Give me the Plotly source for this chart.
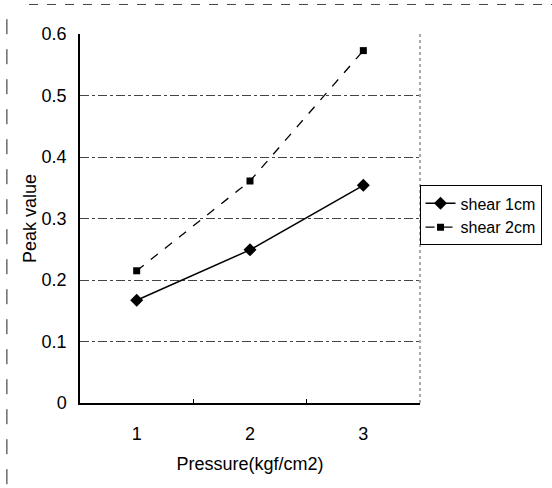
import plotly.graph_objects as go

categories = ["1", "2", "3"]
shear_1cm = [0.167, 0.249, 0.354]
shear_2cm = [0.215, 0.361, 0.573]
y_ticks = [0, 0.1, 0.2, 0.3, 0.4, 0.5, 0.6]
y_tick_labels = ["0", "0.1", "0.2", "0.3", "0.4", "0.5", "0.6"]

FONT = "Liberation Sans Narrow, Liberation Sans, Arial Narrow, Arial, sans-serif"

fig = go.Figure()
fig.add_trace(go.Scatter(
    x=categories, y=shear_1cm, name="shear 1cm", mode="lines+markers",
    line=dict(color="black", width=1.5),
    marker=dict(symbol="diamond", size=10, color="black"),
))
fig.add_trace(go.Scatter(
    x=categories, y=shear_2cm, name="shear 2cm", mode="lines+markers",
    line=dict(color="black", width=1.3, dash="dash"),
    marker=dict(symbol="square", size=7, color="black"),
))

fig.update_layout(
    width=552, height=488,
    margin=dict(l=80, r=132, t=34, b=85, autoexpand=False),
    paper_bgcolor="white", plot_bgcolor="white",
    font=dict(family=FONT, size=18, color="black"),
    showlegend=True,
    legend=dict(
        xref="container", yref="container",
        x=0.76, y=0.62, xanchor="left", yanchor="top",
        bordercolor="black", borderwidth=1, bgcolor="white",
        font=dict(size=16), itemwidth=30, tracegroupgap=0,
    ),
    xaxis=dict(
        type="category", range=[-0.5, 2.5],
        showline=True, linecolor="black", linewidth=1.5,
        ticks="inside", tickson="boundaries", ticklen=4, tickcolor="black",
        showgrid=False, zeroline=False,
        title=dict(text="Pressure(kgf/cm2)", standoff=14, font=dict(size=18)),
        tickfont=dict(size=18), ticklabelstandoff=14,
    ),
    yaxis=dict(
        range=[0, 0.6], tickvals=y_ticks, ticktext=y_tick_labels,
        showline=True, linecolor="black", linewidth=1.5,
        ticks="", showgrid=True, gridcolor="#444444", gridwidth=1, griddash="dashdot",
        zeroline=False,
        title=dict(text="Peak value", standoff=0, font=dict(size=18)),
        tickfont=dict(size=18), ticklabelstandoff=8,
    ),
)

# right dotted border of plot area
fig.add_shape(type="line", xref="paper", yref="paper", x0=1, x1=1, y0=0, y1=1,
              line=dict(color="#555555", width=1, dash="dot"))
# scan frame lines
fig.add_shape(type="line", xref="paper", yref="paper",
              x0=-0.215, x1=-0.215, y0=-0.22, y1=1.06,
              line=dict(color="#222222", width=1, dash="longdash"))
fig.add_shape(type="line", xref="paper", yref="paper",
              x0=-0.15, x1=1.39, y0=1.08, y1=1.08,
              line=dict(color="#444444", width=1, dash="dash"))

fig.write_html("out.html")
